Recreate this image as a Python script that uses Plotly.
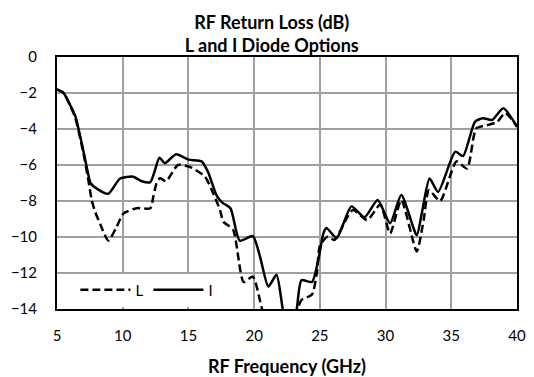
import plotly.graph_objects as go

# RF return loss traces for the two diode options
freq_L = [5.0, 5.5, 6.0, 6.4, 7.0, 7.4, 7.64, 7.9, 8.3, 8.9, 9.5, 10.05, 11.06, 12.1,
          12.33, 12.58, 12.84, 13.3, 14.2, 15.1, 16.26, 16.9, 17.4, 17.66, 18.4, 19.2,
          19.9, 20.6, 21.5, 22.5, 23.3, 23.6, 24.4, 24.77, 25.0, 25.6, 26.1, 27.5,
          28.6, 29.6, 30.34, 31.2, 32.37, 32.9, 33.3, 34.15, 35.4, 36.2, 36.9, 37.7,
          38.5, 39.1, 40.0]
rl_L = [-1.8, -2.0, -2.7, -3.4, -5.3, -6.9, -7.95, -8.6, -9.3, -10.2, -9.5, -8.7, -8.4, -8.4,
        -7.76, -7.0, -6.74, -6.9, -6.0, -6.1, -6.65, -7.6, -8.5, -9.15, -9.6, -12.5,
        -12.2, -14.0, -16.0, -16.0, -14.0, -13.5, -13.2, -12.0, -10.5, -9.98, -10.17, -8.5,
        -9.06, -8.2, -9.8, -7.95, -10.8, -9.05, -7.4, -8.0, -5.8, -6.2, -3.96, -3.8,
        -3.6, -3.1, -3.87]

freq_I = [5.0, 5.5, 6.0, 6.4, 7.0, 7.4, 7.55, 8.0, 8.9, 9.8, 10.8, 11.45, 12.1, 12.8,
          13.2, 14.06, 15.0, 16.0, 16.5, 17.15, 17.6, 18.2, 18.9, 19.9, 20.45, 21.08,
          21.7, 22.2, 22.7, 23.24, 23.6, 24.4, 24.9, 25.27, 25.5, 26.28, 27.4, 28.4,
          29.4, 30.34, 31.2, 32.37, 32.75, 33.35, 34.0, 35.3, 35.9, 36.8, 37.4, 38.1,
          38.96, 40.0]
rl_I = [-1.8, -2.0, -2.67, -3.3, -5.2, -6.6, -7.0, -7.3, -7.6, -6.75, -6.65, -6.9, -6.95, -5.6,
        -5.9, -5.4, -5.7, -5.8, -6.4, -7.7, -8.1, -8.4, -10.2, -9.95, -11.1, -12.75,
        -12.1, -14.1, -15.5, -14.0, -12.4, -12.5, -11.2, -9.8, -9.5, -10.05, -8.3, -8.9,
        -7.95, -9.24, -7.67, -9.9, -8.7, -6.75, -7.5, -5.26, -5.5, -3.6, -3.4, -3.5,
        -2.85, -3.87]

x_ticks = [5, 10, 15, 20, 25, 30, 35, 40]
y_ticks = [0, -2, -4, -6, -8, -10, -12, -14]

FONT = "Lato"
TICK_FONT = dict(family=FONT, size=15, color="black")
TITLE_FONT = dict(family=FONT, size=18, color="black")

fig = go.Figure()
fig.add_trace(go.Scatter(
    x=freq_L, y=rl_L, name="L", mode="lines",
    line=dict(color="black", width=2.5, dash="8px,4px", shape="spline", smoothing=0.6),
))
fig.add_trace(go.Scatter(
    x=freq_I, y=rl_I, name="I", mode="lines",
    line=dict(color="black", width=2.5, shape="spline", smoothing=0.6),
))

axis_common = dict(
    showgrid=True, gridcolor="#a0a0a0", gridwidth=1.5,
    showline=True, linecolor="black", linewidth=2, mirror=True,
    zeroline=False, ticks="", tickfont=TICK_FONT, automargin=False,
)

fig.update_layout(
    width=534, height=377,
    margin=dict(l=57, r=17, t=57, b=68),
    paper_bgcolor="white", plot_bgcolor="white",
    title=dict(
        text="<b>RF Return Loss (dB)</b><br><b>L and I Diode Options</b>",
        x=0.509, xanchor="center", xref="container",
        y=0.924, yanchor="middle", yref="container",
        font=TITLE_FONT,
    ),
    xaxis=dict(
        range=[5, 40], tickvals=x_ticks, ticklabelstandoff=12,
        title=dict(text="<b>RF Frequency (GHz)</b>", font=TITLE_FONT, standoff=19),
        **axis_common,
    ),
    yaxis=dict(range=[-14, 0], tickvals=y_ticks, ticklabelstandoff=15, **axis_common),
    legend=dict(
        orientation="h", x=0.04, y=0.075, xanchor="left", yanchor="middle",
        bgcolor="white", font=TICK_FONT, itemwidth=50,
    ),
    showlegend=True,
)

fig.write_html("out.html")
